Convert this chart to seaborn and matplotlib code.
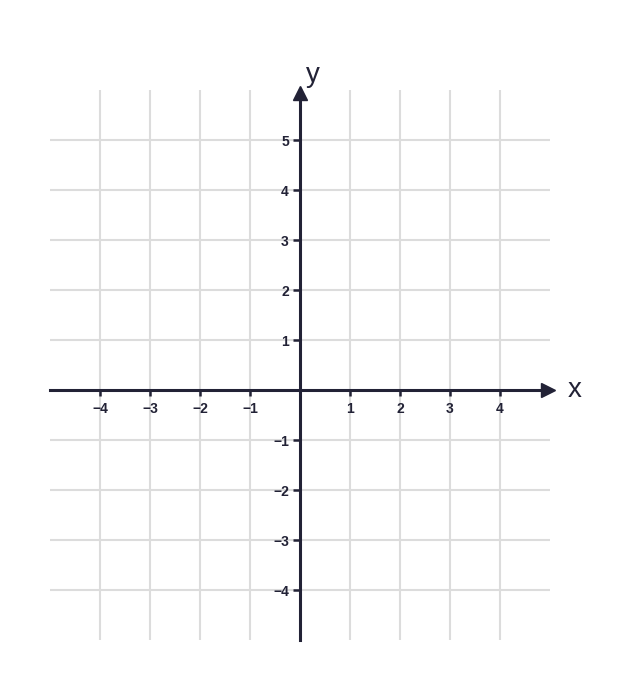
import numpy as np
import seaborn as sns
import matplotlib.pyplot as plt

# data: tick positions / labels of the coordinate plane
x_ticks = [-4, -3, -2, -1, 1, 2, 3, 4]
y_ticks = [-4, -3, -2, -1, 1, 2, 3, 4, 5]
x_labels = ['\u2212' + str(-v) if v < 0 else str(v) for v in x_ticks]
y_labels = ['\u2212' + str(-v) if v < 0 else str(v) for v in y_ticks]
x_range = [-5, 5]
y_range = [-5, 6]

sns.set_style('white')
plt.rcParams['font.family'] = ['Liberation Sans', 'DejaVu Sans']

axis_col = '#222236'
grid_col = '#dcdcdc'

fig = plt.figure(figsize=(6.42, 6.90), dpi=100)
ax = fig.add_axes([50 / 642, 50 / 690, 500 / 642, 550 / 690])
ax.set_xlim(x_range)
ax.set_ylim(y_range)

# axes through origin (set before styling ticks: this resets them)
for s in ['top', 'right']:
    ax.spines[s].set_visible(False)
for s in ['left', 'bottom']:
    ax.spines[s].set_position('zero')
    ax.spines[s].set_color(axis_col)
    ax.spines[s].set_linewidth(2.2)
    ax.spines[s].set_zorder(3)

# grid + ticks
ax.set_xticks(x_ticks)
ax.set_yticks(y_ticks)
ax.set_xticklabels(x_labels)
ax.set_yticklabels(y_labels)
ax.tick_params(axis='x', bottom=True, direction='out', length=4.5, width=1.8, pad=4,
               color=axis_col, labelsize=10, labelcolor=axis_col)
ax.tick_params(axis='y', left=True, direction='out', length=5, width=1.8, pad=3,
               color=axis_col, labelsize=10, labelcolor=axis_col)
for lab in ax.get_xticklabels() + ax.get_yticklabels():
    lab.set_fontweight('bold')
ax.grid(True, color=grid_col, linewidth=1.5)
ax.set_axisbelow(True)

# arrow heads
ax.plot(x_range[1] - 0.05, 0, marker='>', markersize=10, color=axis_col, clip_on=False, zorder=4)
ax.plot(0, y_range[1] - 0.05, marker='^', markersize=10, color=axis_col, clip_on=False, zorder=4)

ax.text(5.5, -0.14, 'x', fontsize=20, color=axis_col, ha='center', va='baseline')
ax.text(0.26, 6.16, 'y', fontsize=20, color=axis_col, ha='center', va='baseline')

fig.savefig('out.png', dpi=100)
